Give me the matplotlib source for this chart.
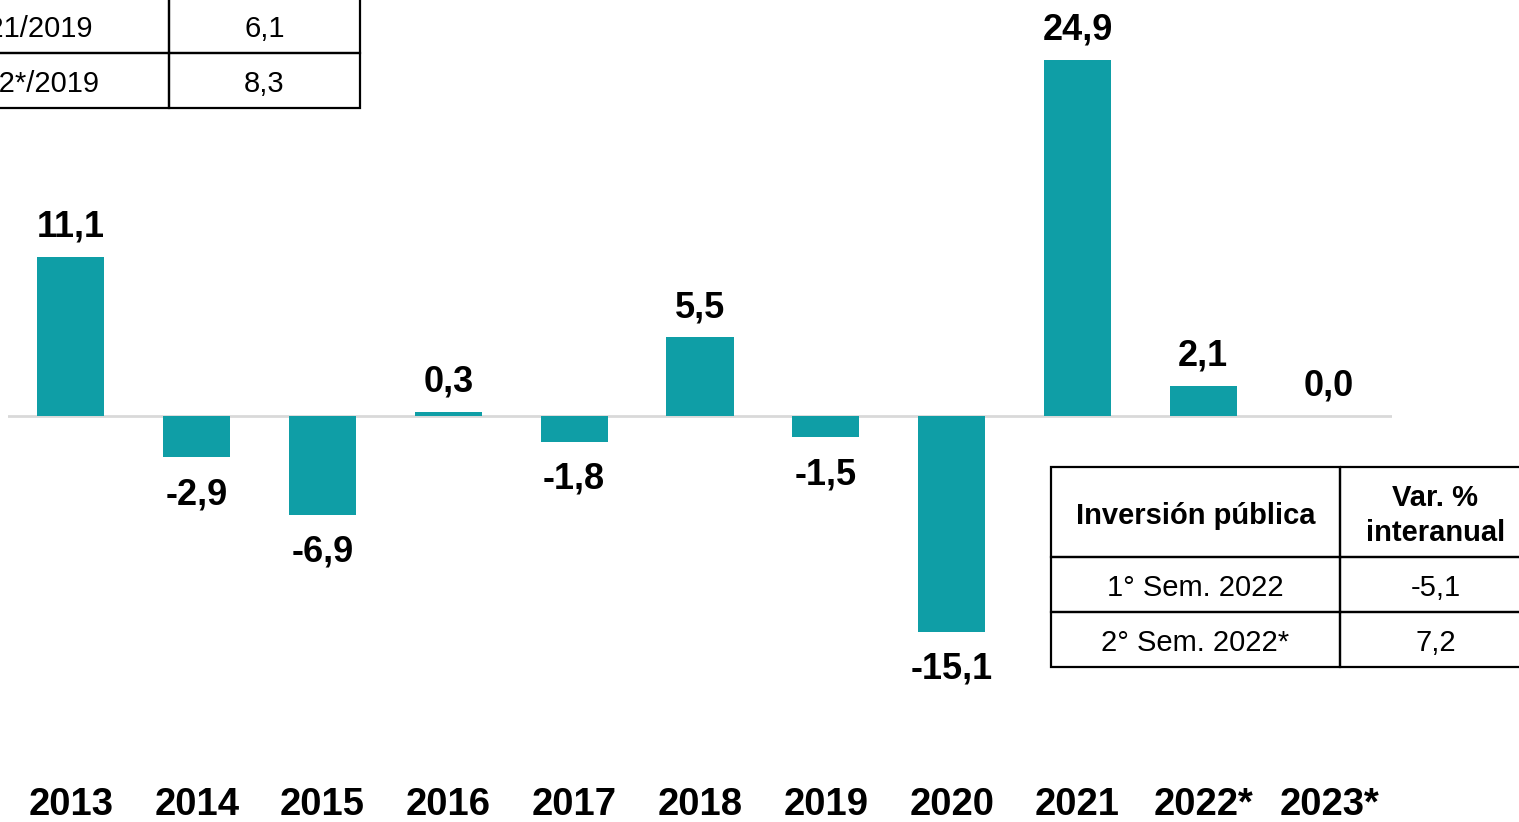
import matplotlib.pyplot as plt
from matplotlib.patches import Rectangle

plt.rcParams['font.family'] = ['Liberation Sans', 'DejaVu Sans']

anios = ['2013', '2014', '2015', '2016', '2017', '2018', '2019', '2020', '2021', '2022*', '2023*']
variacion = [11.1, -2.9, -6.9, 0.3, -1.8, 5.5, -1.5, -15.1, 24.9, 2.1, 0.0]

# tabla superior (recortada en el original)
tabla1_filas = [['2021/2019', '6,1'], ['2022*/2019', '8,3']]
# tabla inferior derecha
tabla2_encabezado = ['Inversión pública', 'Var. %\ninteranual']
tabla2_filas = [['1° Sem. 2022', '-5,1'], ['2° Sem. 2022*', '7,2']]

W, H = 1519, 822
color_barra = '#0f9ea6'

fig = plt.figure(figsize=(W / 100, H / 100), dpi=100)
ax = fig.add_axes([8 / W, 0, 1384 / W, 1])

x = list(range(len(anios)))
ax.bar(x, variacion, width=0.533, color=color_barra, zorder=2)
ax.axhline(0, color='#d9d9d9', lw=2, zorder=1)
ax.set_xlim(-0.5, len(anios) - 0.5)
ax.set_ylim(-28.4, 29.1)
ax.axis('off')

for xi, v in zip(x, variacion):
    txt = f'{v:.1f}'.replace('.', ',')
    off = 21.5 if v >= 0 else -27
    ax.annotate(txt, (xi, v), xytext=(0, off), textcoords='offset points',
                ha='center', va='center', fontsize=26, fontweight='bold')
    ax.text(xi, (H - 815) / H, anios[xi], transform=ax.get_xaxis_transform(),
            ha='center', va='baseline', fontsize=27.5, fontweight='bold')

# capa para las tablas en pixeles
ov = fig.add_axes([0, 0, 1, 1])
ov.set_xlim(0, W)
ov.set_ylim(H, 0)
ov.axis('off')


def dibujar_tabla(x0, y0, anchos, altos, celdas, negrita):
    y = y0
    for fila, alto, bold in zip(celdas, altos, negrita):
        xc = x0
        for texto, ancho in zip(fila, anchos):
            ov.add_patch(Rectangle((xc, y), ancho, alto, fill=False,
                                   ec='black', lw=1.6, clip_on=False))
            ov.text(xc + ancho / 2, y + alto / 2 + 3.5, texto, ha='center', va='center',
                    fontsize=21, fontweight='bold' if bold else 'normal',
                    linespacing=1.3)
            xc += ancho
        y += alto


dibujar_tabla(-120, -2, [289, 191], [55, 55], tabla1_filas, [False, False])
dibujar_tabla(1051, 467, [289, 191], [90, 55, 55],
              [tabla2_encabezado] + tabla2_filas, [True, False, False])

fig.savefig('out.png', dpi=100)
